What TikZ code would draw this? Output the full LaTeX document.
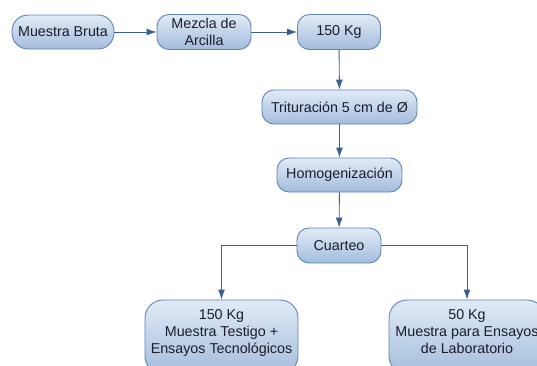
\documentclass[tikz,border=0pt]{standalone}
\usepackage{fontspec}
\setmainfont{Liberation Sans}
\usetikzlibrary{arrows.meta}
\definecolor{topc}{HTML}{E2EBF6}
\definecolor{botc}{HTML}{A3BCDD}
\definecolor{edgec}{HTML}{5F83B5}
\definecolor{linec}{HTML}{3B5F92}
\definecolor{txtc}{HTML}{1C1C2A}
\tikzset{
  box/.style={draw=edgec, line width=0.9pt, rounded corners=12pt, top color=topc, bottom color=botc,
    align=center, inner sep=0pt, text=txtc, font=\fontsize{14.3}{17}\selectfont},
  conn/.style={draw=linec, line width=0.9pt, -{Latex[length=10pt,width=7pt]}}
}
\begin{document}
\begin{tikzpicture}[x=1pt,y=-1pt]
\useasboundingbox (0,0) rectangle (537,365);
\clip (0,0) rectangle (537,365);
\node[box, minimum width=102pt, minimum height=34pt, rounded corners=16pt] (mb) at (63,32) {Muestra Bruta};
\node[box, minimum width=94pt, minimum height=35pt] (ma) at (204,32) {Mezcla de\\Arcilla};
\node[box, minimum width=83pt, minimum height=35pt] (k150) at (339,32) {150 Kg};
\node[box, minimum width=155pt, minimum height=34pt] (tri) at (339.5,107) {Trituración 5 cm de Ø};
\node[box, minimum width=125pt, minimum height=34pt] (hom) at (339.5,175) {Homogenización};
\node[box, minimum width=84pt, minimum height=35pt] (cua) at (339,245.5) {Cuarteo};
\node[box, minimum width=153pt, minimum height=74pt, rounded corners=18pt] (mt) at (221.5,337) {150 Kg\\Muestra Testigo +\\Ensayos Tecnológicos\\[-6pt]\mbox{}};
\node[box, minimum width=156pt, minimum height=74pt, rounded corners=18pt] (ml) at (467,337) {50 Kg\\Muestra para Ensayos\\de Laboratorio\\[-6pt]\mbox{}};
\draw[conn] (mb) -- (ma);
\draw[conn] (ma) -- (k150);
\draw[conn] (k150) -- (tri);
\draw[conn] (tri) -- (hom);
\draw[conn] (hom) -- (cua);
\draw[conn] (cua.west) -| (mt.north);
\draw[conn] (cua.east) -| (ml.north);
\end{tikzpicture}
\end{document}
